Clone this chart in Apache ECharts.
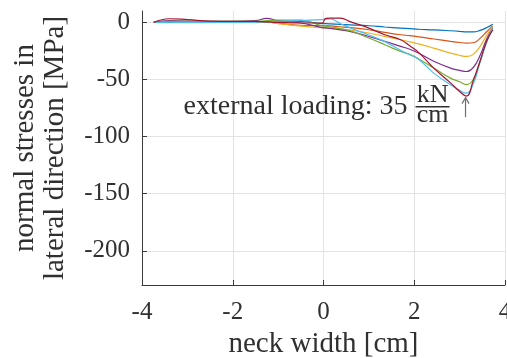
<!DOCTYPE html>
<html>
<head>
<meta charset="utf-8">
<script src="https://cdn.jsdelivr.net/npm/echarts@6/dist/echarts.min.js"></script>
<style>
html,body{margin:0;padding:0;background:#fff;}
#c{width:507px;height:358px;}
</style>
</head>
<body>
<div id="c"></div>
<script>
// neck width positions [cm]
const xs = [-3.74, -3.4, -3.0, -2.5, -2.0, -1.5, -1.25, -1.0, -0.5, -0.03, 0.05, 0.15, 0.37, 0.6, 1.0, 1.35, 1.7, 1.9, 2.1, 2.43, 2.8, 3.0, 3.15, 3.3, 3.45, 3.6, 3.73];
// normal stresses [MPa] for increasing load steps
const s1 = [0, 0.3, 0.5, 0.5, 0.5, 0.5, 0.3, 0.3, 0.8, -1.0, -1.1, -1.3, -1.8, -2.2, -2.9, -4.0, -5.0, -5.5, -6.0, -6.5, -7.3, -7.8, -8.2, -8.3, -7.0, -4.5, -1.5];
const s2 = [0, 0.8, 0.8, 0.8, 0.8, 0.8, 0.5, -0.8, -2.5, -2.8, -2.9, -3.1, -3.8, -4.6, -6.4, -8.7, -10.8, -11.6, -12.6, -14.5, -16.6, -17.6, -18.1, -17.8, -14.0, -8.0, -3.0];
const s3 = [0, 0.8, 0.8, 0.8, 0.8, 0.8, 0.5, -1.0, -3.2, -4.5, -4.7, -5.0, -5.8, -6.8, -9.3, -12.3, -15.2, -17.0, -18.8, -22.5, -26.9, -28.8, -29.8, -28.0, -21.0, -11.0, -4.0];
const s4 = [0, 1.5, 1.2, 1.0, 1.0, 1.5, 3.5, 1.5, -0.5, -4.5, -4.8, -5.3, -6.5, -8.0, -12.3, -16.5, -21.0, -23.5, -27.0, -34.0, -40.0, -42.0, -43.0, -39.5, -29.0, -14.0, -5.0];
const s5 = [0, 1, 1, 1, 1, 1, 1.5, 2, 2, -3.0, -3.3, -4.0, -5.5, -7.5, -13.7, -19.5, -25.5, -28.0, -32.0, -40.0, -48.8, -52.0, -54.5, -50.0, -34.0, -16.0, -5.5];
const s6 = [0, -0.3, -0.3, 0, 0, 0.3, 0.5, 1, 1.8, 2.5, 2.8, 3.0, -1.0, -5.0, -11.0, -16.8, -24.5, -28.3, -32.5, -44.4, -54.6, -59.5, -62.0, -54.0, -35.0, -17.0, -4.0];
const s7 = [0, 3.2, 2.5, 1.2, 1.0, 1.0, 0.5, 0, -0.5, -0.5, 3.5, 3.8, 3.8, 0.5, -5.0, -10.8, -15.2, -20.5, -26.5, -40.0, -53.0, -60.5, -64.5, -51.0, -34.0, -16.0, -6.5];
const seriesValues = [s1, s2, s3, s4, s5, s6, s7];
const colors = ['#0072BD', '#D95319', '#EDB120', '#7E2F8E', '#77AC30', '#4DBEEE', '#A2142F'];
const xTicks = [-4, -2, 0, 2, 4];
const yTicks = [-200, -150, -100, -50, 0];
const xRange = [-4, 4];
const yRange = [-230, 10];
const annotText = 'external loading: 35';
const annotNum = 'kN';
const annotDen = 'cm';
const arrowTip = [3.13, -65];
const arrowTail = [3.13, -83];

const FONT = '"Liberation Serif", "Times New Roman", serif';
const TXT = '#303030';

const chart = echarts.init(document.getElementById('c'), null, {renderer: 'canvas'});
const series = seriesValues.map((vals, i) => ({
  type: 'line',
  data: xs.map((x, j) => [x, vals[j]]),
  smooth: 0.45,
  symbol: 'none',
  lineStyle: {width: 1.2, color: colors[i]},
  itemStyle: {color: colors[i]},
  z: 2 + i,
  animation: false
}));

chart.setOption({
  animation: false,
  grid: {left: 142, right: 2, top: 11, bottom: 73, containLabel: false, outerBoundsMode: 'none'},
  xAxis: {
    type: 'value', min: xRange[0], max: xRange[1], interval: 2,
    name: 'neck width [cm]', nameLocation: 'middle', nameGap: 44,
    nameTextStyle: {fontFamily: FONT, fontSize: 29, color: TXT},
    axisLine: {show: true, onZero: false, lineStyle: {color: '#3a3a3a', width: 1}},
    axisTick: {show: true, inside: true, length: 5, lineStyle: {color: '#3a3a3a'}},
    axisLabel: {fontFamily: FONT, fontSize: 25, color: TXT, margin: 15, showMaxLabel: true, showMinLabel: true,
      formatter: v => xTicks.includes(v) ? String(v) : ''},
    splitLine: {show: true, lineStyle: {color: '#e3e3e3', width: 1}}
  },
  yAxis: {
    type: 'value', min: yRange[0], max: yRange[1],
    name: 'normal stresses in\nlateral direction [MPa]', nameLocation: 'middle', nameGap: 72, nameRotate: 90,
    nameTextStyle: {fontFamily: FONT, fontSize: 29, color: TXT, lineHeight: 30},
    axisLine: {show: true, onZero: false, lineStyle: {color: '#3a3a3a', width: 1}},
    axisTick: {show: true, inside: true, length: 5, lineStyle: {color: '#3a3a3a'}, customValues: yTicks},
    axisLabel: {fontFamily: FONT, fontSize: 25, color: TXT, margin: 12, customValues: yTicks,
      formatter: v => String(v)},
    splitLine: {show: true, lineStyle: {color: '#e3e3e3', width: 1}}
  },
  series: series
});

function drawAnnotation() {
  const p = chart.convertToPixel({gridIndex: 0}, arrowTip);
  const q = chart.convertToPixel({gridIndex: 0}, arrowTail);
  chart.setOption({
    graphic: [
      {type: 'line', shape: {x1: p[0], y1: p[1] + 1, x2: q[0], y2: q[1]}, style: {stroke: '#6e6e6e', lineWidth: 1.2}, z: 20},
      {type: 'polyline', shape: {points: [[p[0] - 3.5, p[1] + 7], [p[0], p[1] + 1], [p[0] + 3.5, p[1] + 7]]}, style: {stroke: '#6e6e6e', lineWidth: 1.2, fill: null}, z: 20},
      {type: 'text', x: p[0] - 58, y: p[1] + 10, style: {text: annotText, font: '28px ' + FONT, fill: TXT, align: 'right', verticalAlign: 'middle'}, z: 20},
      {type: 'text', x: p[0] - 33, y: p[1] - 1, style: {text: annotNum, font: '26px ' + FONT, fill: TXT, align: 'center', verticalAlign: 'middle'}, z: 20},
      {type: 'line', shape: {x1: p[0] - 50, y1: p[1] + 10, x2: p[0] - 16, y2: p[1] + 10}, style: {stroke: TXT, lineWidth: 1.5}, z: 20},
      {type: 'text', x: p[0] - 33, y: p[1] + 19, style: {text: annotDen, font: '26px ' + FONT, fill: TXT, align: 'center', verticalAlign: 'middle'}, z: 20}
    ]
  });
}
drawAnnotation();
</script>
</body>
</html>
